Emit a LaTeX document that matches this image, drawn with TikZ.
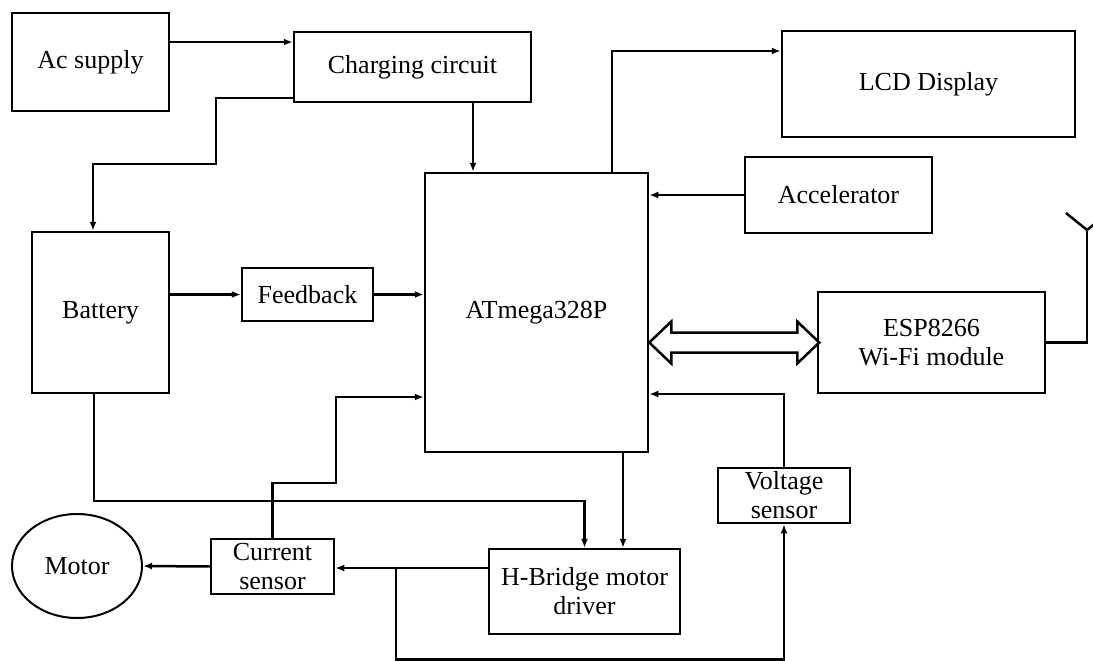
\documentclass[tikz,border=0pt]{standalone}
\usepackage{fontspec}
\setmainfont{Liberation Serif}
\usetikzlibrary{arrows.meta,shapes.geometric}

\begin{document}
\begin{tikzpicture}[x=1pt, y=-1pt, line width=2.5pt, >={Latex[length=9pt,width=7pt]}]
            \useasboundingbox (0,0) rectangle (1093,661);
            \begin{scope}[
                    every node/.style={rectangle, draw, inner sep=0pt, align=center,
                        font=\fontsize{26}{29}\selectfont},
                ]

                \node[minimum width=157, minimum height=98] (acs) at (90.5,62) {Ac supply};
                \node[minimum width=237, minimum height=70] (chg) at (412.5,67) {Charging circuit};
                \node[minimum width=293, minimum height=106] (lcd) at (928.5,84) {LCD Display};
                \node[minimum width=187, minimum height=76] (acc) at (838.5,195) {Accelerator};
                \node[minimum width=223, minimum height=279] (mcu) at (536.5,312.5) {ATmega328P};
                \node[minimum width=227, minimum height=101] (esp) at (931.5,342.5) {ESP8266\\Wi-Fi module};
                \node[minimum width=137, minimum height=161] (bat) at (100.5,312.5) {Battery};
                \node[minimum width=131, minimum height=53] (fbk) at (307.5,294.5) {Feedback};
                \node[minimum width=191, minimum height=85] (hbr) at (584.5,591.5) {H-Bridge motor\\driver};
                \node[minimum width=132, minimum height=55] (vsn) at (784,495.5) {Voltage\\sensor};
                \node[minimum width=123, minimum height=55] (csn) at (272.5,566.5) {Current\\sensor};
                \node[ellipse, line width=2pt, minimum width=130, minimum height=104] (mot) at (77,566) {Motor};
            \end{scope}

            \coordinate (k1) at (216,164);
            \coordinate (k3) at (336,483);
            \coordinate (tap) at (396,568);
            \coordinate (ant) at (1087,230);

            \draw[->] ([yshift=20]acs.east) -- ([yshift=20]acs.east -| chg.west);
            \draw[->] ([yshift=5]chg.south west) -| (k1) -| ([xshift=-7.5]bat.north);
            \draw[->] ([xshift=60.5]chg.south) -- ([xshift=60.5]chg.south |- mcu.north);
            \draw[->] ([xshift=75.5]mcu.north) |- ([yshift=33]lcd.west);
            \draw[->] (acc.west) -- (acc.west -| mcu.east);
            \draw[->] (fbk.west -| bat.east) -- (fbk.west);
            \draw[->] (fbk.east) -- (fbk.east -| mcu.west);
            \draw[->] ([xshift=-6.5]bat.south) |- ([yshift=47]hbr.north) -- (hbr.north);
            \draw[->] ([xshift=86.5]mcu.south) -- ([xshift=86.5]mcu.south |- hbr.north);
            \draw[->] ([yshift=23.5]hbr.west) -- ([yshift=23.5]hbr.west -| csn.east);
            \draw[->] (csn.west) -- (mot.east);
            \draw[->] (csn.north) |- (k3) |- ([yshift=-84.5]mcu.west);
            \draw[->] (tap) |- ([yshift=-135]vsn.south) -- (vsn.south);
            \draw[->] (vsn.north) |- ([yshift=-81.5]mcu.east);

            % hollow two-way bus
            \draw[line join=miter] (mcu.east |- esp.west) -- ++(22,-21) -- ++(0,11) -- ++(126,0)
                -- ++(0,-11) -- ++(22,21) -- ++(-22,21) -- ++(0,-11) -- ++(-126,0)
                -- ++(0,11) -- cycle;

            % antenna
            \draw (esp.east) -| (ant);
            \draw (ant) -- ++(-21,-17);
            \draw (ant) -- ++(21,-17);

        \end{tikzpicture}
\end{document}
